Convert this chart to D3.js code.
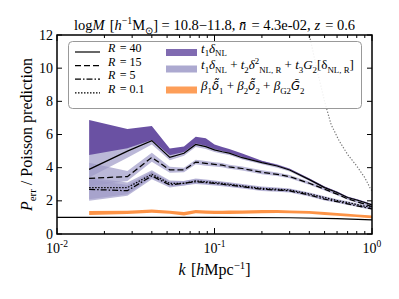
<!DOCTYPE html>
<html>
<head>
<meta charset="utf-8">
<script src="https://cdn.jsdelivr.net/npm/d3@7"></script>
<style>
  body { margin: 0; background: #fff; }
  svg { display: block; }
</style>
</head>
<body>
<div id="chart"></div>
<script>
// k bins shared by every measured curve and model band
const kVals = [0.016, 0.028, 0.040, 0.052, 0.064, 0.076, 0.088, 0.100, 0.112, 0.124, 0.15, 0.2, 0.25, 0.3, 0.4, 0.5, 0.6, 0.7, 0.8, 0.9, 1.0];

// measured P_err / Poisson for each smoothing scale R
const r40 = [3.9, 5.0, 5.63, 4.62, 4.87, 5.4, 5.27, 5.07, 4.96, 4.88, 4.6, 4.3, 4.1, 3.86, 3.28, 2.8, 2.5, 2.2, 2.05, 1.9, 1.75];
const r15 = [3.36, 3.46, 4.62, 3.86, 3.86, 4.34, 4.26, 4.2, 4.15, 4.05, 3.95, 3.72, 3.6, 3.46, 3.06, 2.7, 2.4, 2.12, 1.95, 1.8, 1.65];
const r5 = [2.69, 2.61, 3.5, 2.96, 3.06, 3.15, 3.1, 3.05, 3.0, 2.95, 2.85, 2.7, 2.65, 2.6, 2.35, 2.1, 1.95, 1.82, 1.7, 1.6, 1.52];
const r01 = [2.8, 2.8, 3.6, 3.05, 3.05, 3.2, 3.15, 3.1, 3.05, 3.0, 2.9, 2.75, 2.7, 2.65, 2.42, 2.2, 2.02, 1.9, 1.78, 1.68, 1.6];

// t1 dNL band (R = 40)
const dark40Lo = [4.76, 5.17, 5.67, 4.75, 4.95, 5.45, 5.32, 5.12, 5.0, 4.92, 4.65, 4.33, 4.12, 3.88, 3.3, 2.82, 2.52, 2.22, 2.07, 1.92, 1.77];
const dark40Hi = [6.88, 6.33, 6.51, 5.15, 5.27, 5.87, 5.77, 5.4, 5.25, 5.12, 4.85, 4.42, 4.18, 3.93, 3.34, 2.86, 2.56, 2.25, 2.1, 1.95, 1.8];

// full nonlinear model bands
const light40Lo = [3.4, 4.6, 5.4, 4.45, 4.72, 5.25, 5.12, 4.94, 4.84, 4.76, 4.49, 4.2, 4.0, 3.77, 3.2, 2.73, 2.43, 2.14, 1.99, 1.84, 1.69];
const light40Hi = [4.8, 5.3, 5.9, 4.8, 5.02, 5.55, 5.42, 5.2, 5.08, 5.0, 4.72, 4.4, 4.2, 3.95, 3.36, 2.87, 2.57, 2.26, 2.11, 1.96, 1.81];
const light15Lo = [2.9, 3.2, 4.35, 3.7, 3.72, 4.2, 4.12, 4.07, 4.02, 3.93, 3.83, 3.6, 3.49, 3.36, 2.97, 2.62, 2.33, 2.06, 1.89, 1.74, 1.6];
const light15Hi = [4.3, 3.8, 4.9, 4.05, 4.0, 4.48, 4.4, 4.33, 4.28, 4.17, 4.07, 3.84, 3.71, 3.56, 3.15, 2.78, 2.47, 2.18, 2.01, 1.86, 1.7];
const light5Lo = [2.0, 2.3, 3.3, 2.8, 2.92, 3.02, 2.97, 2.93, 2.88, 2.83, 2.74, 2.6, 2.55, 2.5, 2.26, 2.02, 1.88, 1.75, 1.64, 1.54, 1.46];
const light5Hi = [3.3, 2.95, 3.75, 3.15, 3.2, 3.3, 3.24, 3.18, 3.13, 3.08, 2.97, 2.82, 2.76, 2.71, 2.45, 2.2, 2.04, 1.9, 1.77, 1.67, 1.58];
const light01Lo = [2.1, 2.4, 3.4, 2.9, 2.92, 3.06, 3.02, 2.97, 2.93, 2.88, 2.79, 2.65, 2.6, 2.55, 2.33, 2.12, 1.95, 1.83, 1.72, 1.62, 1.54];
const light01Hi = [3.4, 3.1, 3.85, 3.22, 3.2, 3.34, 3.28, 3.23, 3.17, 3.12, 3.01, 2.86, 2.8, 2.75, 2.51, 2.28, 2.1, 1.97, 1.84, 1.74, 1.66];

// Eulerian bias expansion band
const biasLo = [1.15, 1.2, 1.28, 1.22, 1.12, 1.25, 1.22, 1.2, 1.2, 1.21, 1.22, 1.25, 1.26, 1.25, 1.22, 1.15, 1.1, 1.06, 1.02, 0.98, 0.95];
const biasHi = [1.38, 1.4, 1.48, 1.4, 1.32, 1.45, 1.42, 1.4, 1.4, 1.41, 1.42, 1.45, 1.45, 1.42, 1.38, 1.32, 1.27, 1.22, 1.18, 1.14, 1.12];

// reference curves
const shotK = [0.01, 0.1, 0.3, 0.6, 1.0];
const shotV = [1.0, 1.0, 0.98, 0.93, 0.85];
const greyK = [0.38, 0.40, 0.45, 0.50, 0.55, 0.62, 0.70, 0.80, 0.90, 0.97, 1.0];
const greyV = [13.2, 12, 9.8, 8.0, 6.6, 5.6, 4.8, 4.1, 3.4, 2.8, 2.6];

const xTicks = [0.01, 0.1, 1];
const xTickExp = ["-2", "-1", "0"];
const yTicks = [0, 2, 4, 6, 8, 10, 12];

const width = 399, height = 299;
const margin = {top: 35, right: 27, bottom: 65, left: 57};
const dark = "#6a51a3", light = "#9e9ac8", orange = "#fd8d3c";
const serif = "Liberation Serif, serif";
const tildeFont = "DejaVu Sans";

const svg = d3.select("#chart").append("svg")
  .attr("width", width).attr("height", height)
  .attr("font-family", serif);
svg.append("rect").attr("width", width).attr("height", height).attr("fill", "#fff");

const x = d3.scaleLog().domain([0.01, 1]).range([margin.left, width - margin.right]);
const y = d3.scaleLinear().domain([0, 12]).range([height - margin.bottom, margin.top]);

svg.append("clipPath").attr("id", "plot-clip")
  .append("rect")
  .attr("x", margin.left).attr("y", margin.top)
  .attr("width", width - margin.left - margin.right)
  .attr("height", height - margin.top - margin.bottom);

const plot = svg.append("g").attr("clip-path", "url(#plot-clip)");

const area = (lo, hi) => d3.area()
  .x((d, i) => x(kVals[i]))
  .y0((d, i) => y(lo[i]))
  .y1((d, i) => y(hi[i]))(kVals);
const line = (ks, vs) => d3.line().x((d, i) => x(ks[i])).y((d, i) => y(vs[i]))(ks);

[[light01Lo, light01Hi], [light5Lo, light5Hi], [light15Lo, light15Hi], [light40Lo, light40Hi]].forEach(([lo, hi]) => {
  plot.append("path").attr("d", area(lo, hi)).attr("fill", light).attr("fill-opacity", 0.7);
});
plot.append("path").attr("d", area(dark40Lo, dark40Hi)).attr("fill", dark);
plot.append("path").attr("d", area(biasLo, biasHi)).attr("fill", orange).attr("fill-opacity", 0.95);

plot.append("path").attr("d", line(shotK, shotV)).attr("fill", "none").attr("stroke", "#000").attr("stroke-width", 1.2);
plot.append("path").attr("d", line(greyK, greyV)).attr("fill", "none")
  .attr("stroke", "#777").attr("stroke-width", 1.2).attr("stroke-dasharray", "1.3,1.7");

const styles = [
  {v: r40, dash: null, label: "40"},
  {v: r15, dash: "6,3", label: "15"},
  {v: r5, dash: "6,2,1.5,2", label: "5"},
  {v: r01, dash: "1.5,1.5", label: "0.1"}
];
styles.forEach((s) => {
  plot.append("path").attr("d", line(kVals, s.v)).attr("fill", "none")
    .attr("stroke", "#000").attr("stroke-width", 1.25)
    .attr("stroke-dasharray", s.dash);
});

// axes with inward ticks on all four sides
const minor = [];
[0.01, 0.1].forEach((d) => { for (let m = 2; m <= 9; m++) minor.push(d * m); });
const axes = svg.append("g").attr("stroke", "#000");
const yb = y(0), yt = y(12), xl = x(0.01), xr = x(1);
xTicks.forEach((k) => {
  axes.append("line").attr("x1", x(k)).attr("x2", x(k)).attr("y1", yb).attr("y2", yb - 6);
  axes.append("line").attr("x1", x(k)).attr("x2", x(k)).attr("y1", yt).attr("y2", yt + 6);
});
minor.forEach((k) => {
  axes.append("line").attr("x1", x(k)).attr("x2", x(k)).attr("y1", yb).attr("y2", yb - 3);
  axes.append("line").attr("x1", x(k)).attr("x2", x(k)).attr("y1", yt).attr("y2", yt + 3);
});
yTicks.forEach((v) => {
  axes.append("line").attr("x1", xl).attr("x2", xl + 5).attr("y1", y(v)).attr("y2", y(v));
  axes.append("line").attr("x1", xr).attr("x2", xr - 5).attr("y1", y(v)).attr("y2", y(v));
});
axes.append("rect").attr("x", xl).attr("y", yt).attr("width", xr - xl).attr("height", yb - yt)
  .attr("fill", "none").attr("stroke-width", 1.5);

// rich text helper: parts are [text, style] with flags i (italic), _ (sub), ^ (sup), ~ (tilde glyph font), + (small gap)
function rich(text, parts, fs) {
  let cur = 0;
  text.attr("font-family", serif);
  parts.forEach(([str, style = ""]) => {
    const sub = style.includes("_"), sup = style.includes("^");
    const target = sub ? fs * 0.28 : sup ? -fs * 0.4 : 0;
    const ts = text.append("tspan").text(str).attr("dy", target - cur);
    cur = target;
    if (style.includes("i")) ts.attr("font-style", "italic");
    if (style.includes("~")) ts.attr("font-family", tildeFont).attr("font-size", fs * 0.9);
    if (style.includes("+")) ts.attr("dx", 1.5);
    if (sub || sup) ts.attr("font-size", fs * 0.68);
  });
  return text;
}

yTicks.forEach((v) => {
  svg.append("text").attr("x", xl - 4).attr("y", y(v)).attr("dy", "0.33em")
    .attr("font-family", serif)
    .attr("text-anchor", "end").attr("font-size", 14).text(v);
});
xTicks.forEach((k, i) => {
  const t = svg.append("text").attr("x", x(k)).attr("y", yb + 19).attr("text-anchor", "middle").attr("font-size", 14);
  rich(t, [["10"], [xTickExp[i], "^"]], 14);
});

rich(svg.append("text").attr("x", (xl + xr) / 2).attr("y", yb + 41).attr("text-anchor", "middle").attr("font-size", 16),
  [["k", "i"], [" [", "+"], ["h", "i"], ["Mpc"], ["−1", "^"], ["]"]], 16);

rich(svg.append("text").attr("transform", `translate(32,${(yt + yb) / 2}) rotate(-90)`).attr("text-anchor", "middle").attr("font-size", 16),
  [["P", "i"], ["err", "_"], [" / Poisson prediction"]], 16);

rich(svg.append("text").attr("x", (xl + xr) / 2).attr("y", yt - 5).attr("text-anchor", "middle").attr("font-size", 14.5),
  [["log"], ["M", "i"], [" [", "+"], ["h", "i"], ["−1", "^"], ["M"], ["⊙", "_"], ["] = 10.8−11.8, "], ["n̄", "i"], [" = 4.3e-02, ", "+"], ["z", "i"], [" = 0.6", "+"]], 14.5);

// legend
const lg = svg.append("g");
lg.append("rect").attr("x", 68.5).attr("y", 41.5).attr("width", 293).attr("height", 67).attr("rx", 4)
  .attr("fill", "#fff").attr("fill-opacity", 0.9).attr("stroke", "#999").attr("stroke-width", 1);
styles.forEach((s, i) => {
  const yy = 52 + i * 13.6;
  lg.append("line").attr("x1", 75).attr("x2", 100).attr("y1", yy).attr("y2", yy)
    .attr("stroke", "#000").attr("stroke-width", 1.2).attr("stroke-dasharray", s.dash);
  rich(lg.append("text").attr("x", 108).attr("y", yy).attr("dy", "0.35em").attr("font-size", 12),
    [["R", "i"], [" = " + s.label, "+"]], 12);
});
const patches = [
  {y: 52.5, fill: dark, parts: [["t", "i"], ["1", "_"], ["δ", "i"], ["NL", "_"]]},
  {y: 69, fill: light, parts: [["t", "i"], ["1", "_"], ["δ", "i"], ["NL", "_"], [" + "], ["t", "i"], ["2", "_"], ["δ", "i"], ["2", "^"], ["NL, R", "_"], [" + "], ["t", "i"], ["3", "_"], ["G", "i"], ["2", "_"], ["[δ"], ["NL, R", "_"], ["]"]]},
  {y: 90, fill: orange, parts: [["β", "i"], ["1", "_"], ["δ̃", "i~"], ["1", "_"], [" + "], ["β", "i"], ["2", "_"], ["δ̃", "i~"], ["2", "_"], [" + "], ["β", "i"], ["G2", "_"], ["G̃", "i~"], ["2", "_"]]}
];
patches.forEach((p) => {
  lg.append("rect").attr("x", 166).attr("y", p.y - 3.5).attr("width", 31).attr("height", 7)
    .attr("fill", p.fill).attr("fill-opacity", 0.85);
  rich(lg.append("text").attr("x", 201).attr("y", p.y).attr("dy", "0.35em").attr("font-size", 13), p.parts, 13);
});
</script>
</body>
</html>
